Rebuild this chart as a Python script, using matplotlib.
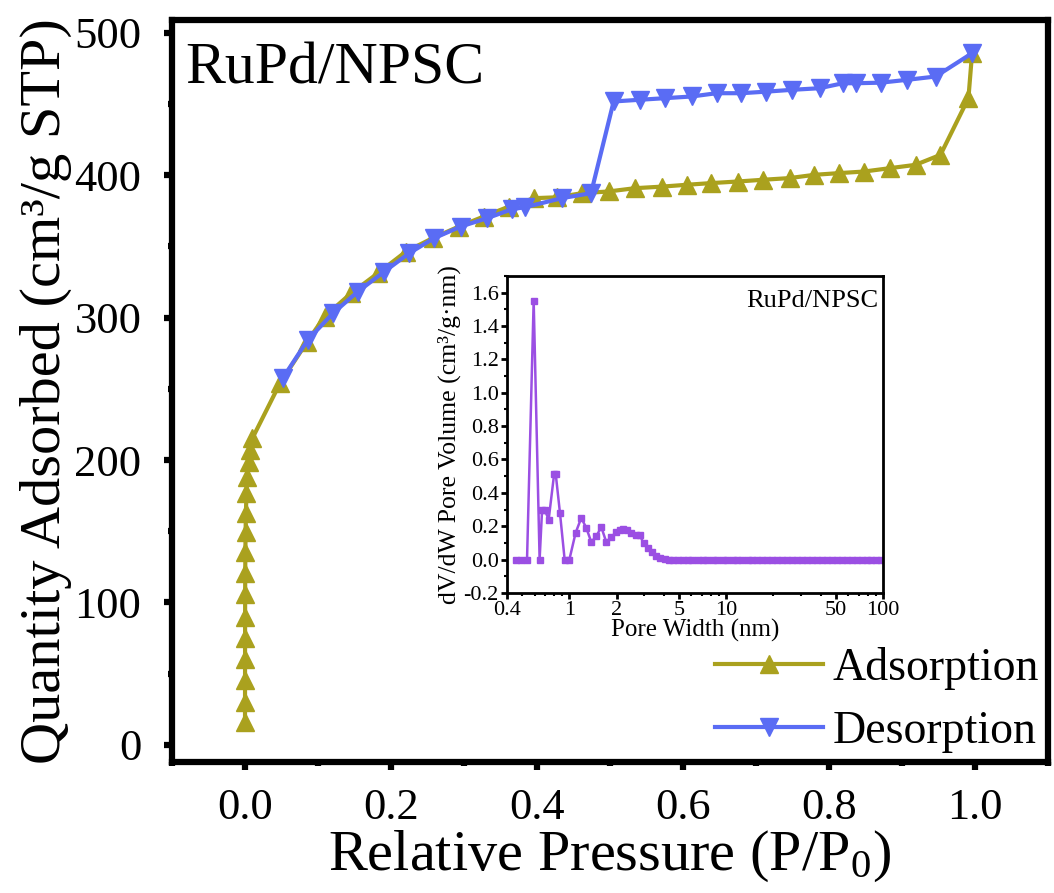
import numpy as np
import matplotlib
matplotlib.use('Agg')
import matplotlib.pyplot as plt
from matplotlib.ticker import MultipleLocator, FixedLocator, LogLocator, NullFormatter

plt.rcParams['font.family'] = ['Liberation Serif', 'DejaVu Serif']
plt.rcParams['mathtext.fontset'] = 'custom'
plt.rcParams['mathtext.rm'] = 'Liberation Serif'
plt.rcParams['mathtext.it'] = 'Liberation Serif:italic'

# isotherm, adsorption branch
ads_p = [0.00001, 0.00002, 0.00004, 0.00006, 0.0001, 0.00015, 0.0002, 0.0003,
         0.0005, 0.0008, 0.0012, 0.002, 0.003, 0.005, 0.007, 0.010,
         0.048, 0.085, 0.109, 0.1455, 0.182, 0.2205, 0.257, 0.293, 0.327,
         0.3615, 0.396, 0.427, 0.4615, 0.498, 0.534, 0.571, 0.605, 0.639,
         0.675, 0.709, 0.746, 0.780, 0.814, 0.848, 0.884, 0.9185, 0.9527,
         0.991, 0.996]
ads_q = [16.4, 30.4, 45.6, 60.2, 74.9, 90.1, 105.7, 120.5,
         135.7, 149.8, 162.6, 176.7, 188.4, 198.9, 207.2, 215.2,
         254, 283, 300.8, 317.2, 331.2, 346.4, 355.8, 364.0, 371.0,
         378.0, 383.9, 384.5, 387.4, 388.6, 390.9, 392.0, 393.3, 394.5,
         395.6, 396.8, 398.0, 400.3, 401.5, 402.6, 405.0, 407.3, 414.3,
         454.1, 485.7]

# desorption branch
des_p = [0.996, 0.946, 0.907, 0.871, 0.837, 0.819, 0.787, 0.750, 0.714,
         0.680, 0.646, 0.612, 0.575, 0.541, 0.505, 0.474, 0.434, 0.384,
         0.366, 0.332, 0.2956, 0.259, 0.225, 0.191, 0.1546, 0.1205, 0.086,
         0.052]
des_q = [485.7, 469.3, 467.0, 465.0, 464.6, 464.6, 461.1, 460.0, 458.7,
         457.6, 457.6, 455.3, 454.1, 453.0, 451.8, 387.4, 383.9, 377.6,
         376.2, 369.9, 364.0, 355.8, 345.3, 332.4, 318.3, 303.1, 284.4,
         257.7]

# pore size distribution (inset)
pore_w = [0.459, 0.494, 0.537, 0.592, 0.646, 0.670, 0.695, 0.738, 0.800,
          0.818, 0.871, 0.933, 1.0, 1.096, 1.191, 1.282, 1.380, 1.485,
          1.598, 1.720, 1.851, 1.992, 2.092, 2.197, 2.329, 2.482, 2.647,
          2.806, 2.976, 3.171, 3.380, 3.585, 3.802, 4.051,
          4.3, 4.6, 4.9, 5.3, 5.7, 6.1, 6.6, 7.1, 7.6, 8.2, 8.8, 9.5, 10.2,
          11.0, 11.8, 12.7, 13.7, 14.7, 15.8, 17.0, 18.3, 19.7, 21.2, 22.8,
          24.5, 26.4, 28.4, 30.5, 32.8, 35.3, 38.0, 40.8, 43.9, 47.2, 50.8,
          54.6, 58.7, 63.2, 67.9, 73.0, 78.6, 84.5, 90.9, 97.7]
dv_dw = [0, 0, 0, 1.55, 0, 0.30, 0.30, 0.24, 0.515, 0.515, 0.28, 0, 0,
         0.16, 0.25, 0.19, 0.105, 0.14, 0.195, 0.105, 0.135, 0.165, 0.18,
         0.185, 0.175, 0.16, 0.15, 0.145, 0.10, 0.07, 0.045, 0.02, 0.01,
         0.005,
         0, 0, 0, 0, 0, 0, 0, 0, 0, 0, 0, 0, 0,
         0, 0, 0, 0, 0, 0, 0, 0, 0, 0, 0,
         0, 0, 0, 0, 0, 0, 0, 0, 0, 0, 0,
         0, 0, 0, 0, 0, 0, 0, 0, 0]

olive = '#AAA11E'
blue = '#5A6CF4'
purple = '#9B4FE3'

fig = plt.figure(figsize=(10.54, 8.93), dpi=100)
ax = fig.add_axes([0.1632, 0.1467, 0.8311, 0.8309])

ax.plot(ads_p, ads_q, color=olive, lw=3, marker='^', ms=13, label='Adsorption')
ax.plot(des_p, des_q, color=blue, lw=3, marker='v', ms=13, label='Desorption')

ax.set_xlim(-0.1, 1.1)
ax.set_ylim(-12, 509)
ax.xaxis.set_major_locator(MultipleLocator(0.2))
ax.xaxis.set_minor_locator(MultipleLocator(0.1))
ax.yaxis.set_major_locator(MultipleLocator(100))
ax.yaxis.set_minor_locator(MultipleLocator(50))
ax.set_xticks([0.0, 0.2, 0.4, 0.6, 0.8, 1.0], ['0.0', '0.2', '0.4', '0.6', '0.8', '1.0'])
for s in ax.spines.values():
    s.set_linewidth(4.5)
ax.tick_params(which='major', direction='out', length=6, width=4.5, labelsize=32)
ax.tick_params(which='minor', direction='out', length=3, width=4.5)
ax.tick_params(axis='x', which='major', pad=13)
ax.tick_params(axis='y', which='major', pad=16)

ax.set_xlabel('Relative Pressure (P/P$\\mathregular{_0}$)', fontsize=42, labelpad=0)
ax.set_ylabel('Quantity Adsorbed (cm³/g STP)', fontsize=42, labelpad=2)
ax.text(0.015, 0.915, 'RuPd/NPSC', transform=ax.transAxes, fontsize=43, va='baseline')

ax.legend(loc='lower right', frameon=False, fontsize=33, handlelength=2.35,
          handletextpad=0.2, labelspacing=0.45, borderaxespad=0.1, borderpad=0.1)

# inset: pore size distribution
ins = fig.add_axes([0.481, 0.336, 0.3567, 0.355])
ins.plot(pore_w, dv_dw, color=purple, lw=1.8, marker='s', ms=4)
ins.set_xscale('log')
ins.set_xlim(0.4, 100)
ins.set_ylim(-0.2, 1.7)
ins.xaxis.set_major_locator(FixedLocator([0.4, 1, 2, 5, 10, 50, 100]))
ins.set_xticklabels(['0.4', '1', '2', '5', '10', '50', '100'])
ins.xaxis.set_minor_locator(LogLocator(base=10, subs=np.arange(2, 10) * 0.1, numticks=20))
ins.xaxis.set_minor_formatter(NullFormatter())
ins.yaxis.set_minor_locator(MultipleLocator(0.1))
ins.set_yticks(np.arange(-0.2, 1.61, 0.2))
ins.set_yticklabels(['-0.2', '0.0', '0.2', '0.4', '0.6', '0.8', '1.0', '1.2', '1.4', '1.6'])
for s in ins.spines.values():
    s.set_linewidth(2)
ins.tick_params(which='major', direction='out', length=4, width=2, labelsize=16, pad=2)
ins.tick_params(which='minor', direction='out', length=2, width=1.5)
ins.set_xlabel('Pore Width (nm)', fontsize=18, labelpad=-1)
ins.set_ylabel('dV/dW Pore Volume (cm³/g·nm)', fontsize=18.5)
ins.yaxis.set_label_coords(-0.122, 0.5)
ins.text(0.989, 0.903, 'RuPd/NPSC', transform=ins.transAxes, fontsize=19,
         ha='right', va='baseline')

fig.savefig('out.png', dpi=100)
